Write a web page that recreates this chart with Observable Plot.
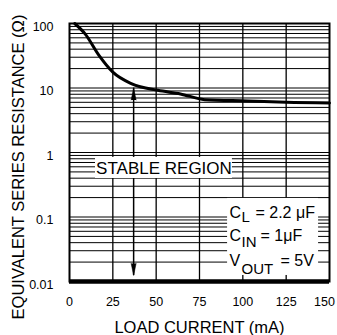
<!DOCTYPE html>
<html><head><meta charset="utf-8">
<script src="https://cdn.jsdelivr.net/npm/d3@7"></script>
<script src="https://cdn.jsdelivr.net/npm/@observablehq/plot@0.6"></script>
<style>body{margin:0;background:#fff}</style>
</head><body><div id="chart"></div>
<script>
// ---- data ----
const loadCurrent = [3, 9, 17, 25, 36, 51, 64, 78, 103, 125, 150];
const esr = [100, 69, 32, 17.6, 11.6, 9.2, 8.1, 6.6, 6.3, 6.0, 5.85];
const xTicks = [0, 25, 50, 75, 100, 125, 150];
const yTicks = [0.01, 0.1, 1, 10, 100];
const yDecades = [0.01, 0.1, 1, 10];
const xTitle = "LOAD CURRENT (mA)";
const yTitle = "EQUIVALENT SERIES RESISTANCE (\u03A9)";
const regionLabel = "STABLE REGION";
const condMain = ["C", "C", "V"];
const condSub = ["L", "IN", "OUT"];
const condValue = ["= 2.2 \u03BCF", "= 1\u03BCF", "= 5V"];

// annotation anchors (data units)
const arrowAt = {x: 37, top: 10, bottom: 0.0124};
const regionBox = {x1: 15, x2: 94, y1: 0.395, y2: 0.84, tx: 54.5, ty: 0.557};
const condBox = {x1: 91.2, x2: 143.7, y1: 0.0124, y2: 0.194};
const condMainAt = {x: 92.3, y: [0.0948, 0.0432, 0.0177]};
const condSubAt = {x: 99.3, y: [0.083, 0.034, 0.01316]};
const condValueAt = {x: [107.3, 110.2, 121.7], y: [0.0948, 0.0432, 0.0177]};

const curve = loadCurrent.map((c, i) => ({c, r: esr[i]}));
const gridValues = yDecades.flatMap(d => [1,2,3,4,5,6,7,8,9].map(k => +(d * k).toPrecision(3))).concat([100]);
const conds = condMain.map((m, i) => ({m, s: condSub[i], v: condValue[i],
  my: condMainAt.y[i], sy: condSubAt.y[i], vx: condValueAt.x[i], vy: condValueAt.y[i]}));

const font = "'Liberation Sans', Arial, Helvetica, sans-serif";

const chart = Plot.plot({
  width: 337,
  height: 335,
  marginLeft: 69,
  marginRight: 8,
  marginTop: 23,
  marginBottom: 54,
  style: {fontFamily: font, fontSize: "13px", background: "white", color: "black"},
  x: {domain: [0, 150]},
  y: {type: "log", domain: [0.01, 100]},
  marks: [
    Plot.gridY(gridValues, {stroke: "black", strokeOpacity: 1, strokeWidth: 1}),
    Plot.gridX(xTicks.slice(1, -1), {stroke: "black", strokeOpacity: 1, strokeWidth: 1.3}),
    Plot.line(curve, {x: "c", y: "r", stroke: "black", strokeWidth: 3, curve: "monotone-x"}),
    Plot.ruleX([arrowAt], {x: "x", y1: "top", y2: "bottom", stroke: "black", strokeWidth: 1.5}),
    Plot.vector([arrowAt], {x: "x", y: "top", shape: "spike", anchor: "end", rotate: 0, length: 12, r: 2.5, fill: "black", stroke: "black", strokeWidth: 0.5}),
    Plot.vector([arrowAt], {x: "x", y: "bottom", shape: "spike", anchor: "end", rotate: 180, length: 12, r: 2.5, fill: "black", stroke: "black", strokeWidth: 0.5}),
    Plot.rect([regionBox], {x1: "x1", x2: "x2", y1: "y1", y2: "y2", fill: "white"}),
    Plot.text([regionBox], {x: "tx", y: "ty", text: () => regionLabel, fontSize: 17, lineAnchor: "middle", textAnchor: "middle"}),
    Plot.rect([condBox], {x1: "x1", x2: "x2", y1: "y1", y2: "y2", fill: "white"}),
    Plot.text(conds, {x: () => condMainAt.x, y: "my", text: "m", fontSize: 16, textAnchor: "start", lineAnchor: "bottom"}),
    Plot.text(conds, {x: () => condSubAt.x, y: "sy", text: "s", fontSize: 15, textAnchor: "start", lineAnchor: "bottom"}),
    Plot.text(conds, {x: "vx", y: "vy", text: "v", fontSize: 16, textAnchor: "start", lineAnchor: "bottom"}),
    Plot.ruleY([0.01], {stroke: "black", strokeWidth: 4.5}),
    Plot.frame({stroke: "black", strokeWidth: 2}),
    Plot.axisX({ticks: xTicks.slice(0, -1), tickSize: 0, tickPadding: 16, label: null, fontSize: 12.5}),
    Plot.axisX({ticks: xTicks.slice(-1), tickSize: 0, tickPadding: 16, label: null, fontSize: 12.5, dx: -5}),
    Plot.axisY({ticks: yTicks, tickSize: 0, tickPadding: 16, label: null, fontSize: 12.5, dy: 3, tickFormat: d => String(d)}),
    Plot.text([xTitle], {frameAnchor: "bottom", dy: 46, text: d => d, fontSize: 16.5, lineAnchor: "middle"}),
    Plot.text([yTitle], {frameAnchor: "left", rotate: -90, dx: -50.5, dy: 14.5, text: d => d, fontSize: 16.5, lineAnchor: "middle", textAnchor: "middle"})
  ]
});
document.getElementById("chart").appendChild(chart);
</script>
</body></html>
